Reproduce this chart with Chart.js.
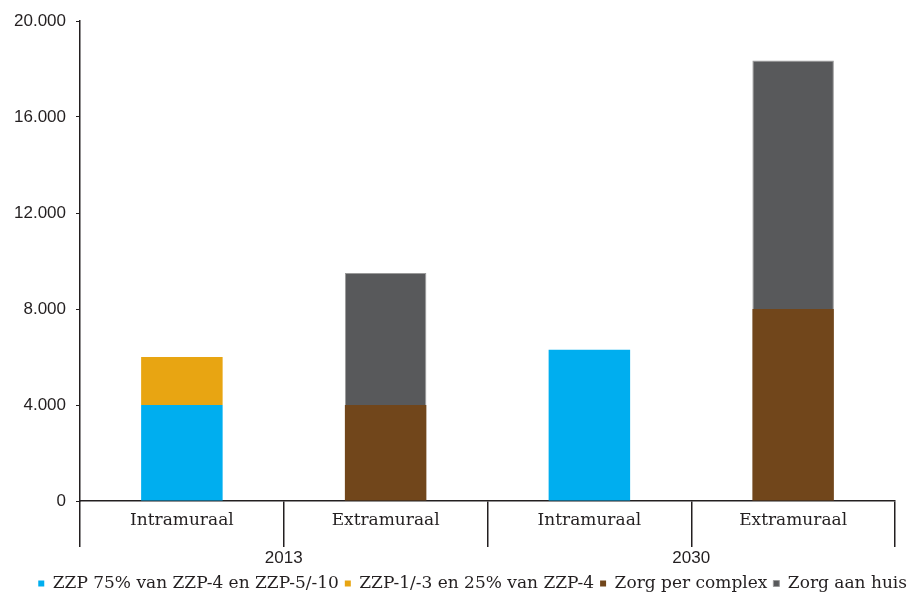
<!DOCTYPE html>
<html lang="nl">
<head>
<meta charset="UTF-8">
<title>Zorg 2013 - 2030</title>
<script src="https://cdn.jsdelivr.net/npm/chart.js"></script>
<style>
    html, body { margin: 0; padding: 0; background: #fff; }
    #wrap { width: 911px; height: 594px; }
</style>
</head>
<body>
<div id="wrap"><canvas id="chart"></canvas></div>
<script>
    // categories
    const categories = ['Intramuraal', 'Extramuraal', 'Intramuraal', 'Extramuraal'];
    const years = ['2013', '2030'];

    // series values (aantal)
    const zzpZwaar = [4000, 0, 6300, 0];
    const zzpLicht = [2000, 0, 0, 0];
    const zorgComplex = [0, 4000, 0, 8000];
    const zorgThuis = [0, 5500, 0, 10350];

    const seriesNames = [
        'ZZP 75% van ZZP-4 en ZZP-5/-10',
        'ZZP-1/-3 en 25% van ZZP-4',
        'Zorg per complex',
        'Zorg aan huis'
    ];
    const colors = ['#00aeef', '#e8a512', '#71461b', '#58595b'];

    const yTicks = [0, 4000, 8000, 12000, 16000, 20000];

    const serif = "'DejaVu Serif', serif";
    const sans = "'Liberation Sans', Arial, sans-serif";
    const textColor = '#231f20';

    const makeSet = (i, data) => ({
        label: seriesNames[i],
        data: data,
        backgroundColor: colors[i],
        borderColor: i === 3 ? '#9a9a9a' : colors[i],
        borderWidth: i === 3 ? 1 : 0,
        barPercentage: 0.4,
        categoryPercentage: 1,
        xAxisID: 'x'
    });

    // legend sits a little further right than the plot area allows
    const shiftLegend = {
        id: 'shiftLegend',
        afterLayout(chart) {
            chart.legend.left += 18;
            chart.legend.right += 18;
        }
    };

    new Chart(document.getElementById('chart'), {
        type: 'bar',
        data: {
            labels: categories,
            datasets: [
                makeSet(0, zzpZwaar),
                makeSet(1, zzpLicht),
                makeSet(2, zorgComplex),
                makeSet(3, zorgThuis)
            ]
        },
        plugins: [shiftLegend],
        options: {
            responsive: true,
            maintainAspectRatio: false,
            animation: false,
            layout: { padding: { top: 21, right: 16, left: 0, bottom: -8 } },
            plugins: {
                tooltip: { enabled: false },
                legend: {
                    position: 'bottom',
                    align: 'end',
                    labels: {
                        font: { family: serif, size: 17 },
                        color: textColor,
                        boxWidth: 6,
                        boxHeight: 6,
                        padding: 6
                    }
                }
            },
            scales: {
                x: {
                    stacked: true,
                    offset: true,
                    border: { color: '#231f20', width: 1.5 },
                    grid: {
                        offset: true,
                        drawOnChartArea: false,
                        color: '#231f20',
                        lineWidth: 1.5,
                        tickLength: 46
                    },
                    ticks: {
                        padding: -37,
                        font: { family: serif, size: 17 },
                        color: textColor,
                        maxRotation: 0
                    },
                    afterFit: (scale) => { scale.height = 30; }
                },
                x2: {
                    type: 'category',
                    labels: years,
                    position: 'bottom',
                    offset: true,
                    border: { display: false },
                    grid: { display: false },
                    ticks: {
                        padding: 9,
                        font: { family: sans, size: 17 },
                        color: textColor
                    },
                    afterFit: (scale) => { scale.height = 38; }
                },
                y: {
                    stacked: true,
                    min: 0,
                    max: 20000,
                    afterBuildTicks: (scale) => { scale.ticks = yTicks.map(v => ({ value: v })); },
                    border: { color: '#231f20', width: 1.5 },
                    grid: {
                        drawOnChartArea: false,
                        color: '#231f20',
                        tickLength: 4
                    },
                    ticks: {
                        padding: 10,
                        font: { family: sans, size: 17 },
                        color: textColor,
                        callback: (v) => v === 0 ? '0' : v.toLocaleString('de-DE')
                    },
                    afterFit: (scale) => { scale.width = 80; }
                }
            }
        }
    });
</script>
</body>
</html>
